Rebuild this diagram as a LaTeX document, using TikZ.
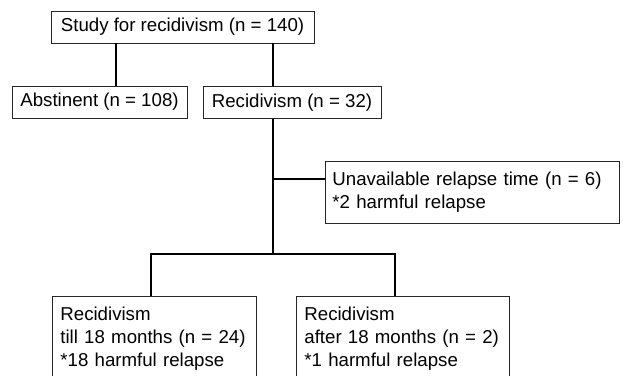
\documentclass[tikz,border=0pt]{standalone}
\usepackage{fontspec}
\setmainfont{Liberation Sans}
\usetikzlibrary{calc}
\usetikzlibrary{positioning}

\begin{document}
\begin{tikzpicture}[-, draw=black, x=0.75pt, y=-0.75pt, font=\fontsize{14}{17}\selectfont]
    \tikzstyle{block}=[draw=black!85,rectangle,fill=none,line width=0.6pt,minimum height=24pt, inner sep=0pt]
    \tikzstyle{textblock}=[draw=black!85,rectangle,fill=none,line width=0.6pt,align=left, inner xsep=6pt, inner ysep=8.25pt]
    \tikzstyle{link}=[line width=1.1pt]

    \useasboundingbox (0,0) rectangle (623,375);
    \clip (0,0) rectangle (623,375);

	\node[block, minimum width=197.25pt] (study) at (182.5,27) {Study for recidivism (n = 140)};
    \node[block, minimum width=131.25pt] (abst) at (99.5,102) {Abstinent (n = 108)};
    \node[block, minimum width=133.5pt] (recid) at (292,102.5) {Recidivism (n = 32)};
    \node[textblock, anchor=west, text width=210pt, inner xsep=5.25pt, minimum height=43.5pt] (unavail) at (325,192)
        {Unavailable relapse time (n = 6)\\{*}2 harmful relapse};
    \node[textblock, anchor=north west, text width=141pt] (till) at (52,296)
        {Recidivism\\till 18 months (n = 24)\\{*}18 harmful relapse};
    \node[textblock, anchor=north west, text width=147.75pt] (after) at (296,296)
        {Recidivism\\after 18 months (n = 2)\\{*}1 harmful relapse};

	\coordinate (xa) at (116,0);
	\coordinate (xb) at (273,0);
	\coordinate (br) at (273,179);
	\coordinate (jn) at (273,254);
	\coordinate (jl) at (151,254);
	\coordinate (jr) at (395,254);

    \path[link] (study.south -| xa) edge (abst.north -| xa);
    \path[link] (study.south -| xb) edge (recid.north -| xb);
    \path[link] (recid.south -| xb) edge (jn);
    \path[link] (br) edge (br -| unavail.west);
    \draw[link] (till.north -| jl) -- (jl) -- (jr) -- (after.north -| jr);

\end{tikzpicture}
\end{document}
